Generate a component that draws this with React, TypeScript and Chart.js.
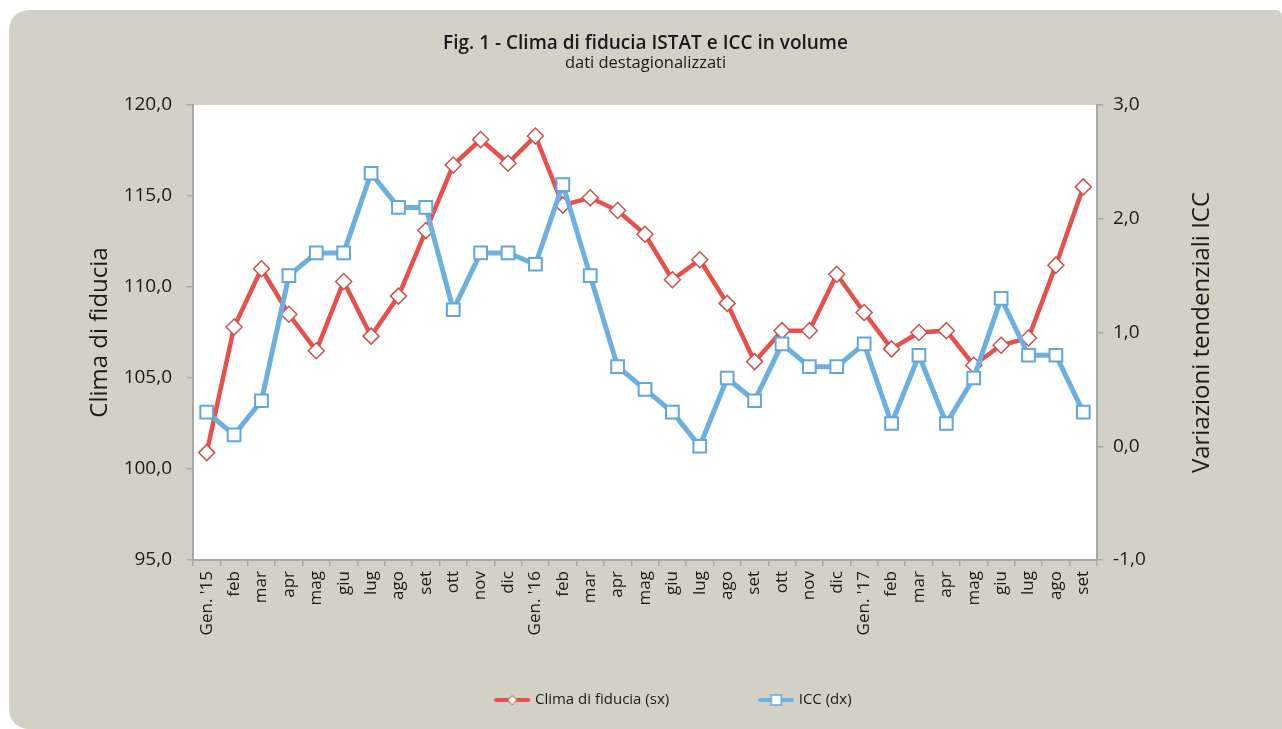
import React, { useEffect, useRef } from 'react';
import { Chart, registerables } from 'chart.js';

Chart.register(...registerables);

const FONT = "'Open Sans', 'Noto Sans', sans-serif";

const titleText = 'Fig. 1 - Clima di fiducia ISTAT e ICC in volume';
const subtitleText = 'dati destagionalizzati';
const leftAxisTitle = 'Clima di fiducia';
const rightAxisTitle = 'Variazioni tendenziali ICC';

const categories = [
  "Gen. '15", 'feb', 'mar', 'apr', 'mag', 'giu', 'lug', 'ago', 'set', 'ott', 'nov', 'dic',
  "Gen. '16", 'feb', 'mar', 'apr', 'mag', 'giu', 'lug', 'ago', 'set', 'ott', 'nov', 'dic',
  "Gen. '17", 'feb', 'mar', 'apr', 'mag', 'giu', 'lug', 'ago', 'set',
];

const climaLabel = 'Clima di fiducia (sx)';
const climaValues = [
  100.9, 107.8, 111.0, 108.5, 106.5, 110.3, 107.3, 109.5, 113.1, 116.7, 118.1, 116.8,
  118.3, 114.5, 114.9, 114.2, 112.9, 110.4, 111.5, 109.1, 105.9, 107.6, 107.6, 110.7,
  108.6, 106.6, 107.5, 107.6, 105.7, 106.8, 107.2, 111.2, 115.5,
];

const iccLabel = 'ICC (dx)';
const iccValues = [
  0.3, 0.1, 0.4, 1.5, 1.7, 1.7, 2.4, 2.1, 2.1, 1.2, 1.7, 1.7,
  1.6, 2.3, 1.5, 0.7, 0.5, 0.3, 0.0, 0.6, 0.4, 0.9, 0.7, 0.7,
  0.9, 0.2, 0.8, 0.2, 0.6, 1.3, 0.8, 0.8, 0.3,
];

const leftMin = 95;
const leftMax = 120;
const leftStep = 5;
const rightMin = -1;
const rightMax = 3;
const rightStep = 1;

const RED_LINE = '#e8504a';
const RED_MARK = '#c9514e';
const BLUE_LINE = '#6cb0e2';
const BLUE_MARK = '#62a6dd';
const AXIS = '#a8a8a8';
const TEXT = '#1a1a1a';

const fmt = (v: number) => Number(v).toFixed(1).replace('.', ',');

function makeLegendImage(kind: 'diamond' | 'square'): HTMLCanvasElement {
  const c = document.createElement('canvas');
  c.width = 36;
  c.height = 14;
  const ctx = c.getContext('2d')!;
  ctx.strokeStyle = kind === 'diamond' ? RED_LINE : BLUE_LINE;
  ctx.lineWidth = 4;
  ctx.lineCap = 'round';
  ctx.beginPath();
  ctx.moveTo(2, 7);
  ctx.lineTo(34, 7);
  ctx.stroke();
  ctx.fillStyle = '#ffffff';
  if (kind === 'diamond') {
    ctx.strokeStyle = RED_MARK;
    ctx.lineWidth = 1;
    ctx.beginPath();
    ctx.moveTo(18 - 4.5, 7);
    ctx.lineTo(18, 7 - 4.5);
    ctx.lineTo(18 + 4.5, 7);
    ctx.lineTo(18, 7 + 4.5);
    ctx.closePath();
    ctx.fill();
    ctx.stroke();
  } else {
    ctx.strokeStyle = BLUE_MARK;
    ctx.lineWidth = 1.5;
    ctx.fillRect(13, 2, 10, 10);
    ctx.strokeRect(13, 2, 10, 10);
  }
  return c;
}

const plotBgPlugin = {
  id: 'plotBg',
  beforeDraw(chart: any) {
    const { ctx, chartArea } = chart;
    ctx.save();
    ctx.fillStyle = '#ffffff';
    ctx.fillRect(chartArea.left, chartArea.top, chartArea.right - chartArea.left, chartArea.bottom - chartArea.top);
    ctx.restore();
  },
};

// legend item text centre: top + padding + fontSize/2
const LEGEND_PAD = 92;
const LEGEND_FONT = 15;
const legendPlacePlugin = {
  id: 'legendPlace',
  afterLayout(chart: any) {
    const l = chart.legend;
    if (l) {
      l.left += 29;
      l.right += 29;
      l.top = 700 - LEGEND_PAD - LEGEND_FONT / 2;
      l.bottom = chart.height;
    }
  },
};

const rightTitlePlugin = {
  id: 'rightTitle',
  afterDraw(chart: any) {
    const s = chart.scales.y1;
    const { ctx, chartArea } = chart;
    ctx.save();
    ctx.translate(s.left + 105, (chartArea.top + chartArea.bottom) / 2);
    ctx.rotate(-Math.PI / 2);
    ctx.font = `24px ${FONT}`;
    ctx.fillStyle = TEXT;
    ctx.textAlign = 'center';
    ctx.textBaseline = 'middle';
    ctx.fillText(rightAxisTitle, 0, 0);
    ctx.restore();
  },
};

export default function App() {
  const ref = useRef<HTMLCanvasElement | null>(null);

  useEffect(() => {
    if (!ref.current) return;
    const imgs = [makeLegendImage('diamond'), makeLegendImage('square')];
    const chart = new Chart(ref.current, {
      type: 'line',
      data: {
        labels: categories,
        datasets: [
          {
            label: climaLabel,
            data: climaValues,
            yAxisID: 'y',
            borderColor: RED_LINE,
            backgroundColor: RED_LINE,
            borderWidth: 4.5,
            tension: 0,
            pointStyle: 'rectRot',
            pointRadius: 8,
            pointBackgroundColor: '#ffffff',
            pointBorderColor: RED_MARK,
            pointBorderWidth: 1.5,
            order: 2,
          },
          {
            label: iccLabel,
            data: iccValues,
            yAxisID: 'y1',
            borderColor: BLUE_LINE,
            backgroundColor: BLUE_LINE,
            borderWidth: 5,
            tension: 0,
            pointStyle: 'rect',
            pointRadius: 9,
            pointBackgroundColor: '#ffffff',
            pointBorderColor: BLUE_MARK,
            pointBorderWidth: 2,
            order: 1,
          },
        ],
      },
      options: {
        responsive: false,
        animation: false,
        events: [],
        layout: { padding: { left: 0, right: 0, top: 0, bottom: 74 } },
        plugins: {
          title: {
            display: true,
            text: titleText,
            color: TEXT,
            font: { family: FONT, size: 19, weight: '600', lineHeight: 1 },
            padding: { top: 34.5, bottom: 0 },
          },
          subtitle: {
            display: true,
            text: subtitleText,
            color: TEXT,
            font: { family: FONT, size: 16.5, weight: 'normal', lineHeight: 1 },
            padding: { top: 1.25, bottom: 33.75 },
          },
          legend: {
            display: true,
            position: 'bottom',
            maxHeight: 10,
            labels: {
              usePointStyle: true,
              pointStyleWidth: 30,
              padding: LEGEND_PAD,
              color: TEXT,
              font: { family: FONT, size: LEGEND_FONT },
              sort: (a: any, b: any) => a.datasetIndex - b.datasetIndex,
              generateLabels: (chart: any) => {
                const items = (Chart.defaults.plugins.legend.labels as any).generateLabels(chart);
                items.forEach((it: any) => {
                  it.pointStyle = imgs[it.datasetIndex];
                  it.rotation = 0;
                });
                return items;
              },
            },
          },
          tooltip: { enabled: false },
        },
        scales: {
          x: {
            type: 'category',
            offset: true,
            grid: {
              offset: true,
              drawOnChartArea: false,
              drawTicks: true,
              tickLength: 6,
              color: AXIS,
              lineWidth: 1.5,
            },
            border: { display: true, color: AXIS, width: 2 },
            ticks: {
              autoSkip: false,
              maxRotation: 90,
              minRotation: 90,
              padding: 5,
              color: TEXT,
              font: { family: FONT, size: 17 },
            },
            afterFit: (s: any) => {
              s.height = 85;
            },
          },
          y: {
            position: 'left',
            min: leftMin,
            max: leftMax,
            grid: {
              drawOnChartArea: false,
              drawTicks: true,
              tickLength: 6,
              color: AXIS,
              lineWidth: 1.5,
            },
            border: { display: true, color: AXIS, width: 2 },
            ticks: {
              stepSize: leftStep,
              padding: 15,
              color: TEXT,
              font: { family: FONT, size: 19 },
              callback: (v: any) => fmt(v),
            },
            title: {
              display: true,
              text: leftAxisTitle,
              color: TEXT,
              font: { family: FONT, size: 24 },
              padding: { top: 76.6, bottom: 0 },
            },
            afterFit: (s: any) => {
              s.width = 184;
            },
          },
          y1: {
            position: 'right',
            min: rightMin,
            max: rightMax,
            grid: {
              drawOnChartArea: false,
              drawTicks: true,
              tickLength: 6,
              color: AXIS,
              lineWidth: 1.5,
            },
            border: { display: true, color: AXIS, width: 2 },
            ticks: {
              stepSize: rightStep,
              padding: 10,
              color: TEXT,
              font: { family: FONT, size: 19 },
              callback: (v: any) => fmt(v),
            },
            afterFit: (s: any) => {
              s.width = 185;
            },
          },
        },
      } as any,
      plugins: [plotBgPlugin, legendPlacePlugin, rightTitlePlugin],
    });
    return () => chart.destroy();
  }, []);

  return (
    <div
      style={{
        position: 'fixed',
        left: 0,
        top: 0,
        width: 1282,
        height: 729,
        overflow: 'hidden',
        background: '#ffffff',
      }}
    >
      <div
        style={{
          position: 'absolute',
          left: 9,
          top: 10,
          width: 1273,
          height: 719,
          background: '#d3d1c5',
          borderTopLeftRadius: 20,
          borderTopRightRadius: 6,
          borderBottomLeftRadius: 20,
          borderBottomRightRadius: 0,
        }}
      />
      <canvas
        ref={ref}
        width={1273}
        height={729}
        style={{ position: 'absolute', left: 9, top: 0, width: 1273, height: 729 }}
      />
    </div>
  );
}
